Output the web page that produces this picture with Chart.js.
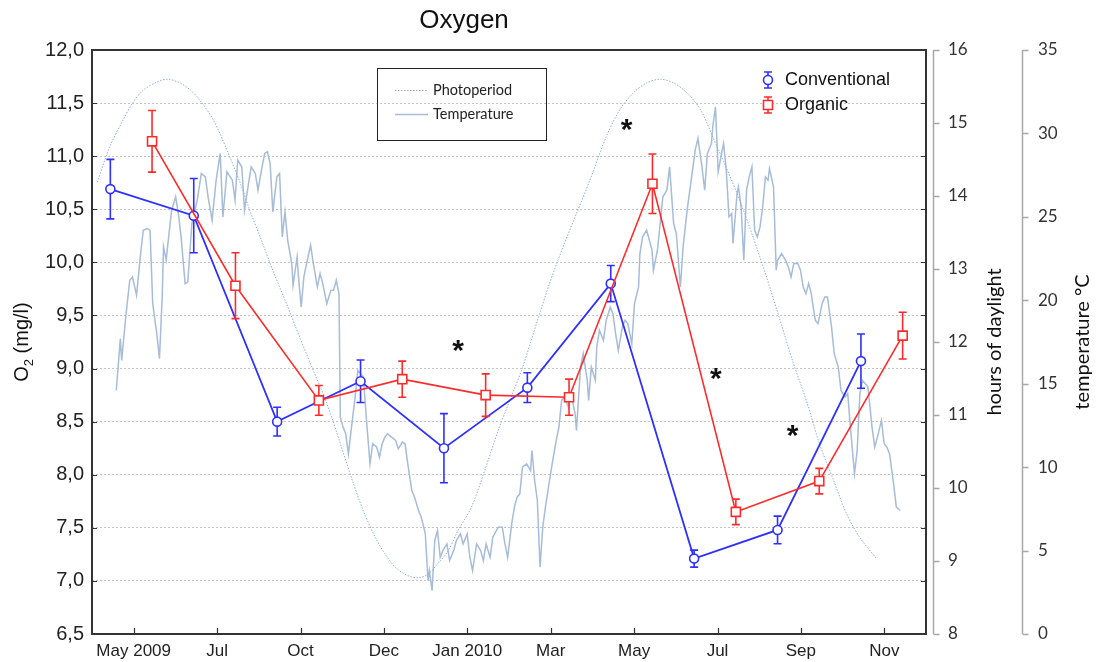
<!DOCTYPE html>
<html>
<head>
<meta charset="utf-8">
<script src="https://cdn.jsdelivr.net/npm/chart.js@4.4.1/dist/chart.umd.min.js"></script>
<style>
  html, body { margin: 0; padding: 0; background: #fff; }
  #wrap { width: 1096px; height: 662px; }
</style>
</head>
<body>
<div id="wrap"><canvas id="oxygenChart" width="1096" height="662"></canvas></div>
<script>
// sampling dates on the x axis
const sampleLabels = ['May 2009', 'Jul', 'Oct', 'Dec', 'Jan 2010', 'Mar', 'May', 'Jul', 'Sep', 'Nov'];

// dissolved oxygen, mean and error (mg/l)
const conventional = [10.69, 10.44, 8.50, 8.88, 8.25, 8.82, 9.80, 7.21, 7.48, 9.07];
const conventionalErr = [0.28, 0.35, 0.135, 0.20, 0.325, 0.14, 0.17, 0.08, 0.13, 0.255];
const organic = [11.14, 9.78, 8.70, 8.90, 8.75, 8.73, 10.74, 7.65, 7.94, 9.31];
const organicErr = [0.29, 0.31, 0.14, 0.17, 0.20, 0.17, 0.28, 0.12, 0.12, 0.22];

// significance stars (sample position, O2 level)
const starSample = [3.89, 5.91, 6.98, 7.90];
const starO2 = [9.24, 11.32, 8.98, 8.44];

// daily background series, day 0 = left edge of the plot
const photoDay = [4, 13, 23, 30, 38, 48, 56, 65, 73, 80,
  90, 100, 110, 117, 125, 134, 144, 154, 164, 174,
  184, 193, 201, 210, 217, 225, 234, 242, 249, 256,
  264, 271, 281, 291, 301, 310, 319, 330, 339, 349,
  359, 369, 381, 391, 401, 411, 421, 431, 441, 451,
  460, 470, 480, 490, 500, 510, 519, 530, 539, 549,
  559, 569, 581];
const photoHours = [14.19, 14.67, 15.04, 15.27, 15.45, 15.56, 15.60, 15.55, 15.45, 15.31,
  15.04, 14.63, 14.17, 13.80, 13.42, 12.98, 12.53, 12.06, 11.61, 11.16,
  10.61, 10.10, 9.69, 9.32, 9.10, 8.91, 8.80, 8.77, 8.82, 8.96,
  9.14, 9.41, 9.73, 10.24, 10.79, 11.22, 11.65, 12.29, 12.80, 13.30,
  13.76, 14.22, 14.81, 15.18, 15.41, 15.55, 15.60, 15.55, 15.41, 15.18,
  14.81, 14.39, 13.94, 13.43, 12.88, 12.29, 11.75, 11.16, 10.61, 10.13,
  9.65, 9.32, 9.04];

const tempDay = [18, 21, 22, 25, 28, 30, 33, 36, 38, 41,
  43, 45, 48, 50, 52, 53, 55, 56, 59, 62,
  64, 66, 69, 71, 74, 78, 81, 84, 86, 89,
  92, 95, 97, 100, 104, 106, 108, 111, 113, 116,
  118, 121, 123, 126, 128, 130, 132, 134, 137, 139,
  141, 143, 145, 148, 149, 152, 153, 155, 157, 159,
  162, 164, 167, 169, 171, 174, 177, 179, 181, 183,
  184, 186, 188, 190, 192, 195, 197, 201, 204, 206,
  208, 211, 213, 215, 217, 219, 222, 225, 227, 230,
  232, 234, 237, 239, 242, 244, 247, 249, 250, 252,
  254, 256, 258, 260, 263, 265, 268, 270, 273, 275,
  278, 280, 282, 285, 288, 290, 292, 295, 297, 301,
  304, 306, 308, 311, 313, 315, 317, 319, 322, 325,
  326, 328, 330, 332, 334, 336, 339, 341, 344, 346,
  348, 350, 353, 355, 358, 359, 362, 364, 367, 368,
  370, 373, 374, 376, 379, 381, 384, 386, 388, 390,
  393, 395, 397, 400, 402, 405, 406, 408, 411, 415,
  416, 419, 421, 423, 426, 428, 431, 433, 436, 438,
  441, 444, 447, 449, 452, 454, 456, 459, 460, 462,
  464, 467, 468, 470, 472, 474, 475, 478, 479, 481,
  483, 485, 487, 489, 491, 493, 495, 497, 499, 501,
  502, 505, 507, 508, 511, 514, 516, 518, 520, 523,
  525, 527, 529, 531, 533, 534, 536, 538, 541, 543,
  545, 548, 550, 553, 555, 558, 560, 562, 565, 567,
  569, 571, 573, 575, 578, 580, 582, 585, 587, 589,
  591, 594, 596, 599];
const tempC = [14.6, 17.7, 16.4, 19.0, 21.2, 21.4, 20.3, 22.8, 24.2, 24.3,
  24.2, 19.8, 18.0, 16.5, 20.2, 23.2, 22.4, 23.2, 25.4, 26.2,
  25.2, 23.8, 21.0, 21.1, 24.6, 26.0, 27.6, 27.4, 26.2, 24.8,
  27.2, 28.8, 25.0, 27.7, 27.2, 26.0, 28.4, 28.0, 25.4, 27.0,
  28.0, 27.6, 26.6, 28.0, 28.8, 28.9, 28.2, 25.3, 27.4, 27.6,
  23.8, 25.3, 23.6, 22.2, 20.9, 22.6, 21.4, 19.6, 21.4, 22.2,
  23.3, 22.2, 20.8, 21.6, 21.0, 19.8, 20.6, 20.6, 21.2, 20.4,
  13.0, 12.4, 12.0, 10.8, 12.2, 14.2, 15.8, 15.4, 12.2, 10.2,
  11.4, 11.2, 10.6, 11.4, 11.8, 12.0, 11.8, 11.6, 11.1, 11.5,
  11.4, 10.2, 8.6, 8.2, 7.4, 7.0, 6.0, 3.2, 3.8, 2.6,
  5.6, 6.2, 4.6, 5.0, 5.4, 4.4, 5.0, 5.6, 6.0, 5.4,
  6.0, 4.6, 3.8, 5.4, 5.0, 4.4, 5.4, 4.6, 5.8, 6.4,
  6.4, 5.4, 4.6, 6.6, 7.6, 8.2, 8.4, 10.0, 10.2, 9.8,
  11.0, 9.2, 8.0, 4.0, 6.4, 7.6, 9.2, 10.2, 11.6, 12.4,
  14.0, 14.2, 13.6, 14.4, 13.2, 12.2, 16.0, 16.8, 15.2, 14.0,
  16.0, 15.2, 17.2, 18.2, 17.6, 18.8, 19.6, 19.2, 18.0, 17.0,
  18.4, 18.8, 18.6, 17.4, 19.8, 20.8, 22.8, 23.8, 24.2, 23.0,
  21.8, 23.0, 24.6, 26.2, 26.6, 28.0, 24.6, 24.0, 20.8, 23.2,
  25.4, 27.2, 29.0, 29.7, 28.0, 26.6, 28.8, 29.4, 30.4, 31.6,
  27.7, 29.0, 29.4, 27.8, 25.0, 25.2, 23.4, 26.4, 26.8, 25.6,
  22.4, 26.6, 27.4, 28.0, 24.2, 23.8, 24.4, 25.6, 27.4, 27.2,
  27.9, 26.8, 21.8, 22.4, 22.8, 22.4, 22.0, 21.4, 22.2, 22.2,
  21.8, 20.8, 20.4, 21.0, 20.4, 19.8, 18.8, 18.6, 19.8, 20.2,
  20.2, 18.4, 16.8, 16.0, 14.6, 14.2, 14.4, 12.4, 9.6, 11.0,
  14.4, 15.2, 15.0, 14.8, 12.4, 11.2, 11.8, 12.8, 11.4, 11.2,
  10.8, 9.0, 7.6, 7.4];

// the two treatments sit either side of each sampling tick
const CONV_SHIFT = -0.28;
const ORG_SHIFT = 0.22;

const BLUE = '#2f2fff';
const RED = '#ff2b2b';
const PHOTO_COLOR = '#8aafe0';
const TEMP_COLOR = '#a6bcd8';

function drawMarker(ctx, style, x, y, color) {
    ctx.save();
    ctx.strokeStyle = color;
    ctx.fillStyle = '#fff';
    ctx.lineWidth = 1.6;
    ctx.beginPath();
    if (style === 'circle') {
        ctx.arc(x, y, 4.5, 0, Math.PI * 2);
    } else {
        ctx.rect(x - 4.5, y - 4.5, 9, 9);
    }
    ctx.fill();
    ctx.stroke();
    ctx.restore();
}

function drawErrorBar(ctx, x, yTop, yBot, color) {
    ctx.save();
    ctx.strokeStyle = color;
    ctx.lineWidth = 1.6;
    ctx.beginPath();
    ctx.moveTo(x, yTop); ctx.lineTo(x, yBot);
    ctx.moveTo(x - 4, yTop); ctx.lineTo(x + 4, yTop);
    ctx.moveTo(x - 4, yBot); ctx.lineTo(x + 4, yBot);
    ctx.stroke();
    ctx.restore();
}

const decorPlugin = {
    id: 'decor',
    beforeDatasetsDraw(chart) {
        const { ctx, chartArea: ca, scales } = chart;
        ctx.save();
        ctx.strokeStyle = '#333';
        ctx.lineWidth = 2;
        ctx.strokeRect(ca.left, ca.top, ca.right - ca.left, ca.bottom - ca.top);
        ctx.lineWidth = 1.2;
        ctx.beginPath();
        scales.y.ticks.forEach(t => {
            const py = Math.round(scales.y.getPixelForValue(t.value)) + 0.5;
            ctx.moveTo(ca.left, py); ctx.lineTo(ca.left + 5, py);
            ctx.moveTo(ca.right - 5, py); ctx.lineTo(ca.right, py);
        });
        scales.x.ticks.forEach(t => {
            const px = Math.round(scales.x.getPixelForValue(t.value)) + 0.5;
            ctx.moveTo(px, ca.bottom); ctx.lineTo(px, ca.bottom - 6);
        });
        ctx.stroke();
        ctx.restore();
    },
    beforeDatasetDraw(chart, args) {
        const ds = chart.data.datasets[args.index];
        if (!ds.errors) return;
        const xs = chart.scales.x, ys = chart.scales.y;
        ds.data.forEach((p, i) => {
            const px = xs.getPixelForValue(p.x);
            drawErrorBar(chart.ctx, px,
                ys.getPixelForValue(p.y + ds.errors[i]),
                ys.getPixelForValue(p.y - ds.errors[i]), ds.borderColor);
        });
    },
    afterDraw(chart) {
        const { ctx, chartArea: ca, scales } = chart;
        const midY = (ca.top + ca.bottom) / 2;
        ctx.save();

        // title
        ctx.fillStyle = '#111';
        ctx.font = '26px Arial';
        ctx.textAlign = 'center';
        ctx.textBaseline = 'middle';
        ctx.fillText('Oxygen', 464, 21);

        // left axis title with subscript
        ctx.save();
        ctx.translate(22, midY);
        ctx.rotate(-Math.PI / 2);
        ctx.textAlign = 'left';
        ctx.font = '20px Arial';
        const wO = ctx.measureText('O').width;
        const wRest = ctx.measureText(' (mg/l)').width;
        ctx.font = '13px Arial';
        const w2 = ctx.measureText('2').width;
        const sx = -(wO + w2 + wRest) / 2;
        ctx.font = '20px Arial';
        ctx.fillText('O', sx, 0);
        ctx.fillText(' (mg/l)', sx + wO + w2, 0);
        ctx.font = '13px Arial';
        ctx.fillText('2', sx + wO, 7);
        ctx.restore();

        // right axes: offset bracket lines with outward ticks
        [['yh', 7, 'hours of daylight'], ['yt', 8, 'temperature \u00b0C']].forEach(([id, off, title]) => {
            const s = scales[id];
            const lx = Math.round(s.left + off) + 0.5;
            ctx.strokeStyle = '#a8a8a8';
            ctx.lineWidth = 1.5;
            ctx.beginPath();
            ctx.moveTo(lx, s.top); ctx.lineTo(lx, s.bottom);
            s.ticks.forEach(t => {
                const py = Math.round(s.getPixelForValue(t.value)) + 0.5;
                ctx.moveTo(lx, py); ctx.lineTo(lx + 6, py);
            });
            ctx.stroke();
            ctx.save();
            ctx.translate(s.left + 69, midY);
            ctx.rotate(-Math.PI / 2);
            ctx.fillStyle = '#111';
            ctx.font = '20px Lato';
            ctx.textAlign = 'center';
            ctx.textBaseline = 'middle';
            ctx.fillText(title, 0, 0);
            ctx.restore();
        });

        // significance stars
        ctx.fillStyle = '#111';
        ctx.font = 'bold 30px Arial';
        ctx.textAlign = 'center';
        ctx.textBaseline = 'alphabetic';
        starSample.forEach((sv, i) => {
            const px = scales.x.getPixelForValue(sv);
            const py = scales.y.getPixelForValue(starO2[i]);
            ctx.fillText('*', px, py + 17);
        });

        // legend for the background series
        ctx.strokeStyle = '#222';
        ctx.lineWidth = 1;
        ctx.strokeRect(377.5, 68.5, 169, 72);
        ctx.strokeStyle = PHOTO_COLOR;
        ctx.setLineDash([1.5, 1.5]);
        ctx.beginPath(); ctx.moveTo(395, 90.5); ctx.lineTo(428, 90.5); ctx.stroke();
        ctx.setLineDash([]);
        ctx.strokeStyle = TEMP_COLOR;
        ctx.lineWidth = 1.5;
        ctx.beginPath(); ctx.moveTo(395, 114.5); ctx.lineTo(428, 114.5); ctx.stroke();
        ctx.fillStyle = '#222';
        ctx.font = '14.5px Lato';
        ctx.textAlign = 'left';
        ctx.textBaseline = 'middle';
        ctx.fillText('Photoperiod', 433, 90);
        ctx.fillText('Temperature', 433, 114);

        // legend for the treatments
        [['Conventional', BLUE, 'circle', 80], ['Organic', RED, 'rect', 105]].forEach(([name, col, st, ly]) => {
            drawErrorBar(ctx, 768, ly - 8, ly + 8, col);
            drawMarker(ctx, st, 768, ly, col);
            ctx.fillStyle = '#111';
            ctx.font = '18px Arial';
            ctx.fillText(name, 785, ly);
        });
        ctx.restore();
    }
};

// tick padding on vertical axes also pads the plot box vertically,
// so the label offset goes through an invisible tick length instead
const hiddenTicks = len => ({ display: false, drawTicks: true, tickLength: len });

const ctx = document.getElementById('oxygenChart').getContext('2d');
new Chart(ctx, {
    type: 'line',
    data: {
        datasets: [
            {
                label: 'Organic',
                data: organic.map((v, i) => ({ x: i + ORG_SHIFT, y: v })),
                errors: organicErr,
                xAxisID: 'x', yAxisID: 'y',
                borderColor: RED, borderWidth: 1.6,
                pointStyle: 'rect', pointRadius: 6.4, pointBorderWidth: 1.6,
                pointBackgroundColor: '#fff', pointBorderColor: RED,
                tension: 0, order: 1
            },
            {
                label: 'Conventional',
                data: conventional.map((v, i) => ({ x: i + CONV_SHIFT, y: v })),
                errors: conventionalErr,
                xAxisID: 'x', yAxisID: 'y',
                borderColor: BLUE, borderWidth: 1.8,
                pointStyle: 'circle', pointRadius: 4.5, pointBorderWidth: 1.6,
                pointBackgroundColor: '#fff', pointBorderColor: BLUE,
                tension: 0, order: 2
            },
            {
                label: 'Photoperiod',
                data: photoDay.map((d, i) => ({ x: d, y: photoHours[i] })),
                xAxisID: 'xd', yAxisID: 'yh',
                borderColor: PHOTO_COLOR, borderWidth: 1, borderDash: [1.5, 1.5],
                pointRadius: 0, tension: 0.3, order: 5
            },
            {
                label: 'Temperature',
                data: tempDay.map((d, i) => ({ x: d, y: tempC[i] })),
                xAxisID: 'xd', yAxisID: 'yt',
                borderColor: TEMP_COLOR, borderWidth: 1.5,
                pointRadius: 0, tension: 0, order: 6
            }
        ]
    },
    options: {
        responsive: false,
        animation: false,
        layout: { padding: { top: 50, left: 0, right: 0, bottom: 0 } },
        plugins: { legend: { display: false }, tooltip: { enabled: false } },
        scales: {
            x: {
                type: 'linear', position: 'bottom', min: -0.5, max: 9.5,
                afterBuildTicks: s => { s.ticks = sampleLabels.map((_, i) => ({ value: i })); },
                afterFit: s => { s.height = 28; },
                grid: { display: false, drawTicks: false },
                border: { display: false },
                ticks: {
                    autoSkip: false, maxRotation: 0, padding: 7,
                    callback: v => sampleLabels[v] ?? '',
                    font: { family: 'Arial', size: 17 }, color: '#222'
                }
            },
            xd: {
                type: 'linear', position: 'bottom', min: 0, max: 618, display: false,
                afterFit: s => { s.height = 0; }
            },
            y: {
                type: 'linear', position: 'left', min: 6.5, max: 12,
                afterFit: s => { s.width = 92; },
                grid: { color: '#c4c4c4', lineWidth: 1, drawTicks: false },
                border: { display: false, dash: [2, 2] },
                ticks: {
                    stepSize: 0.5, padding: 8,
                    callback: v => v.toFixed(1).replace('.', ','),
                    font: { family: 'Arial', size: 20 }, color: '#222'
                }
            },
            yh: {
                type: 'linear', position: 'right', min: 8, max: 16, weight: 0,
                afterFit: s => { s.width = 88; },
                grid: hiddenTicks(20),
                border: { display: false },
                ticks: { stepSize: 1, padding: 2, font: { family: 'Lato', size: 17 }, color: '#333' }
            },
            yt: {
                type: 'linear', position: 'right', min: 0, max: 35, weight: 1,
                afterFit: s => { s.width = 82; },
                grid: hiddenTicks(22),
                border: { display: false },
                ticks: { stepSize: 5, padding: 2, font: { family: 'Lato', size: 17 }, color: '#333' }
            }
        }
    },
    plugins: [decorPlugin]
});
</script>
</body>
</html>
